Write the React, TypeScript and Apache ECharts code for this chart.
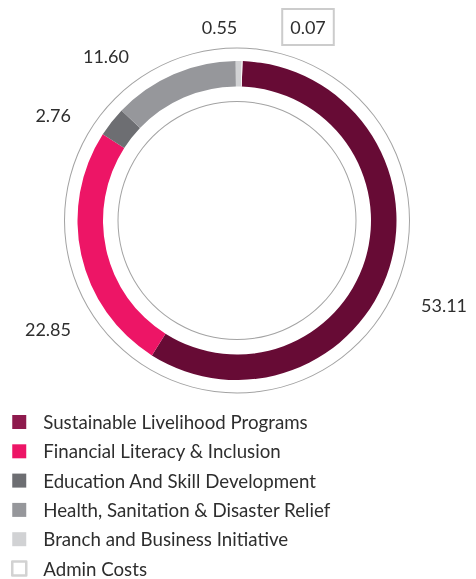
import React, { useEffect, useRef } from "react";
import * as echarts from "echarts";

const categories = [
  "Sustainable Livelihood Programs",
  "Financial Literacy & Inclusion",
  "Education And Skill Development",
  "Health, Sanitation & Disaster Relief",
  "Branch and Business Initiative",
  "Admin Costs",
];
const values = [53.11, 22.85, 2.76, 11.6, 0.55, 0.07];
const valueLabels = ["53.11", "22.85", "2.76", "11.60", "0.55", "0.07"];

const ringColors = ["#670B35", "#ED1566", "#6D6E72", "#96979B", "#D1D2D4", "#FFFFFF"];
const legendColors = ["#8E1A4D", "#ED1566", "#6D6E72", "#96979B", "#D1D2D4", "#FFFFFF"];

// label anchor layout (text positions, not marks)
const labelLayoutPos = [
  { x: 421, y: 305, align: "left" },
  { x: 71, y: 328.5, align: "right" },
  { x: 71, y: 115, align: "right" },
  { x: 129, y: 56, align: "right" },
  { x: 219.5, y: 27, align: "center" },
  { x: 308, y: 27, align: "center" },
];

const CENTER = [237, 220.5];
const FONT = "Lato, 'Open Sans', sans-serif";

export default function App() {
  const ref = useRef<HTMLDivElement>(null);
  useEffect(() => {
    document.body.style.margin = "0";
    const chart = echarts.init(ref.current!, null, { renderer: "svg" });
    const thinRing = (r: number) => ({
      type: "pie",
      silent: true,
      center: CENTER,
      radius: [r - 0.5, r + 0.5],
      label: { show: false },
      labelLine: { show: false },
      emphasis: { disabled: true },
      tooltip: { show: false },
      data: [{ value: 1, name: "__ring" + r, itemStyle: { color: "#a3a3a3" } }],
    });
    chart.setOption({
      animation: false,
      legend: {
        orient: "vertical",
        left: 11,
        top: 412.5,
        height: 300,
        padding: 0,
        itemWidth: 14,
        itemHeight: 14,
        itemGap: 10.3,
        selectedMode: false,
        textStyle: {
          fontFamily: FONT,
          fontSize: 18.7,
          lineHeight: 18,
          height: 18,
          color: "#2e2e2e",
          padding: [0, 0, 0, 12],
        },
        data: categories.map((c, i) => ({
          name: c,
          icon: "rect",
          itemStyle:
            i === 5
              ? { color: "#fff", borderColor: "#d2d2d2", borderWidth: 2.5 }
              : { color: legendColors[i], borderWidth: 0 },
        })),
      },
      series: [
        thinRing(172.5),
        thinRing(119),
        {
          type: "pie",
          center: CENTER,
          radius: [134, 159.5],
          startAngle: 88,
          clockwise: true,
          avoidLabelOverlap: false,
          emphasis: { disabled: true },
          label: {
            show: true,
            position: "outside",
            fontFamily: FONT,
            fontSize: 18,
            color: "#2e2e2e",
            formatter: (p: any) => valueLabels[p.dataIndex],
          },
          labelLine: { show: false },
          labelLayout: (p: any) => {
            const l = labelLayoutPos[p.dataIndex];
            return { x: l.x, y: l.y, align: l.align, verticalAlign: "middle" };
          },
          data: categories.map((c, i) => ({
            name: c,
            value: values[i],
            itemStyle: { color: ringColors[i] },
            label:
              i === 5
                ? {
                    borderColor: "#cccccc",
                    borderWidth: 2,
                    padding: [8, 8],
                    lineHeight: 20,
                  }
                : undefined,
          })),
        },
      ],
    });
    return () => chart.dispose();
  }, []);
  return (
    <div
      ref={ref}
      style={{ position: "fixed", left: 0, top: 0, width: 476, height: 579 }}
    />
  );
}
